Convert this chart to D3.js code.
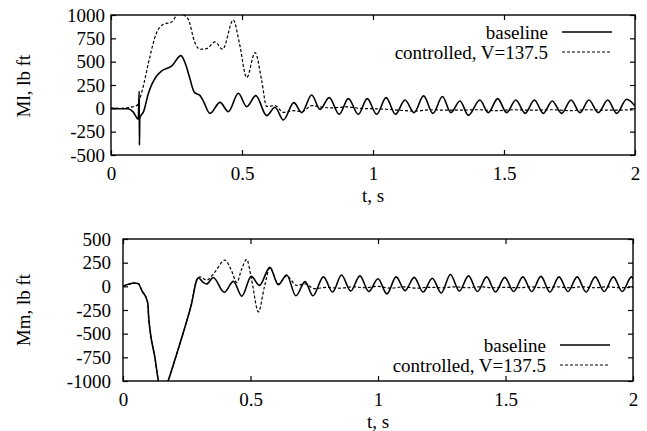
<!DOCTYPE html>
<html>
<head>
<meta charset="utf-8">
<script src="https://cdn.jsdelivr.net/npm/d3@7"></script>
<style>
body { margin: 0; background: #fff; }
text { font-family: "Liberation Serif", "Times New Roman", serif; fill: #000; }
</style>
</head>
<body>
<svg id="chart" width="647" height="431"></svg>
<script>
'use strict';

// x ticks shared by both panels
var tTicks = [0, 0.5, 1, 1.5, 2];
var mlTicks = [-500, -250, 0, 250, 500, 750, 1000];
var mmTicks = [-1000, -750, -500, -250, 0, 250, 500];
var legendNames = ['baseline', 'controlled, V=137.5'];

// Ml, baseline (t [s], lb ft)
var mlBase = [
    [0, 0], [0.03, -5], [0.065, -5], [0.085, -40], [0.104, -115], [0.1075, 185], [0.1085, -395],
    [0.11, -105], [0.125, -30], [0.142, 154], [0.174, 347], [0.193, 400], [0.232, 454],
    [0.267, 565], [0.285, 470], [0.3, 330], [0.318, 172], [0.34, 136], [0.352, 80], [0.378, -54],
    [0.416, 64], [0.448, -36], [0.486, 161], [0.518, 18], [0.553, 136], [0.594, -78], [0.626, 11],
    [0.658, -125], [0.698, 61], [0.728, -46], [0.766, 143], [0.798, -11], [0.833, 115],
    [0.871, -64], [0.906, 104], [0.944, -64], [0.978, 104], [1.014, -64], [1.05, 115],
    [1.086, -64], [1.122, 90], [1.157, -46], [1.193, 133], [1.229, -54], [1.265, 126],
    [1.297, -46], [1.332, 79], [1.364, -75], [1.408, 89], [1.44, -46], [1.476, 104], [1.51, -46],
    [1.545, 89], [1.581, -54], [1.616, 89], [1.65, -54], [1.684, 79], [1.72, -54], [1.756, 89],
    [1.79, -46], [1.824, 89], [1.86, -46], [1.896, 89], [1.93, -54], [1.968, 97], [2.0, 25]
];

// Ml, controlled
var mlCtrl = [
    [0, 0], [0.04, 0], [0.07, 10], [0.098, 29], [0.12, 200], [0.142, 475], [0.174, 811],
    [0.2, 900], [0.232, 925], [0.262, 1040], [0.278, 1000], [0.295, 955], [0.32, 705],
    [0.34, 633], [0.365, 640], [0.397, 711], [0.426, 633], [0.467, 947], [0.49, 700],
    [0.518, 329], [0.55, 597], [0.575, 300], [0.594, 20], [0.626, 29], [0.658, -43],
    [0.696, -25], [0.73, -35], [0.766, 30], [0.8, 15], [0.84, 5], [0.9, 15], [0.95, 0],
    [1.0, -5], [1.05, -10], [1.1, -20], [1.16, -30], [1.22, -15], [1.28, -20], [1.33, -20],
    [1.4, -15], [1.47, -25], [1.54, -15], [1.6, -20], [1.68, -15], [1.75, -25], [1.82, -15],
    [1.9, -20], [2.0, -15]
];

// Mm, common start of both runs
var mmStart = [
    [0, 0], [0.025, 25], [0.045, 35], [0.06, 28], [0.075, -50], [0.094, -146], [0.098, -200],
    [0.1, -300], [0.106, -463], [0.125, -750], [0.139, -1000], [0.157, -1150], [0.177, -1000],
    [0.195, -850], [0.211, -711], [0.243, -429], [0.269, -181], [0.289, 66]
];

// Mm, baseline after t = 0.29
var mmBaseTail = [
    [0.295, 90], [0.315, 40], [0.328, 25], [0.354, 94], [0.397, -62], [0.433, 52], [0.466, -104],
    [0.503, 105], [0.535, 10], [0.576, 200], [0.609, 16], [0.642, 120], [0.678, -100],
    [0.714, 50], [0.745, -100], [0.786, 100], [0.822, -60], [0.857, 120], [0.893, -50],
    [0.929, 110], [0.964, -55], [1.0, 80], [1.035, -80], [1.071, 100], [1.106, -45],
    [1.142, 95], [1.177, -60], [1.213, 85], [1.248, -70], [1.284, 125], [1.319, -50],
    [1.355, 110], [1.39, -55], [1.426, 100], [1.461, -60], [1.497, 95], [1.532, -55],
    [1.568, 100], [1.603, -55], [1.639, 105], [1.674, -60], [1.71, 100], [1.745, -55],
    [1.781, 100], [1.816, -60], [1.852, 100], [1.887, -55], [1.923, 100], [1.958, -55],
    [1.994, 100], [2.0, 80]
];

// Mm, controlled after t = 0.29
var mmCtrlTail = [
    [0.302, 100], [0.328, 66], [0.36, 150], [0.4, 277], [0.425, 170], [0.446, 40],
    [0.465, 180], [0.485, 284], [0.505, 60], [0.531, -270], [0.555, 0], [0.576, 195],
    [0.609, 27], [0.642, 110], [0.681, 10], [0.714, 27], [0.75, -25], [0.8, -10], [0.85, -20],
    [0.9, -5], [0.95, -15], [1.0, 0], [1.05, -20], [1.1, -5], [1.15, -20], [1.2, -10],
    [1.25, -15], [1.3, -5], [1.35, -15], [1.4, -5], [1.45, -15], [1.5, -10], [1.55, -15],
    [1.6, -5], [1.65, -15], [1.7, -5], [1.75, -15], [1.8, -5], [1.85, -15], [1.9, -5],
    [1.95, -15], [2.0, -10]
];

var mmBase = mmStart.concat(mmBaseTail);
var mmCtrl = mmStart.concat(mmCtrlTail);

var svg = d3.select('#chart');
var FONT = '19px';
var TICK = 5;

function drawPanel(p, idx) {
    var x = d3.scaleLinear().domain([0, 2]).range([p.left, p.right]);
    var y = d3.scaleLinear().domain(p.yDomain).range([p.bottom, p.top]);
    var g = svg.append('g').attr('id', 'panel' + idx);

    g.append('clipPath').attr('id', 'clip' + idx)
        .append('rect')
        .attr('x', p.left).attr('y', p.top)
        .attr('width', p.right - p.left).attr('height', p.bottom - p.top);

    var line = d3.line()
        .x(function(d) { return x(d[0]); })
        .y(function(d) { return y(d[1]); })
        .curve(d3.curveMonotoneX);

    var plot = g.append('g').attr('clip-path', 'url(#clip' + idx + ')');
    plot.append('path').datum(p.ctrl)
        .attr('d', line).attr('fill', 'none')
        .attr('stroke', '#000').attr('stroke-width', 1.2)
        .attr('stroke-dasharray', '3,2');
    plot.append('path').datum(p.base)
        .attr('d', line).attr('fill', 'none')
        .attr('stroke', '#000').attr('stroke-width', 1.6);

    // axes, ticks pointing inwards
    var fmt = function(d) { return String(d); };
    var ax = [
        d3.axisBottom(x).tickValues(tTicks).tickFormat(fmt).tickSizeInner(-TICK).tickSizeOuter(0).tickPadding(12),
        d3.axisTop(x).tickValues(tTicks).tickFormat('').tickSizeInner(-TICK).tickSizeOuter(0),
        d3.axisLeft(y).tickValues(p.yTicks).tickFormat(fmt).tickSizeInner(-TICK).tickSizeOuter(0).tickPadding(p.yPad),
        d3.axisRight(y).tickValues(p.yTicks).tickFormat('').tickSizeInner(-TICK).tickSizeOuter(0)
    ];
    var pos = [
        [0, p.bottom], [0, p.top], [p.left, 0], [p.right, 0]
    ];
    ax.forEach(function(a, i) {
        var ag = g.append('g')
            .attr('transform', 'translate(' + pos[i][0] + ',' + pos[i][1] + ')')
            .call(a);
        ag.select('.domain').remove();
        ag.selectAll('line').attr('stroke', '#000').attr('stroke-width', 1.2);
        ag.selectAll('text')
            .style('font-family', '"Liberation Serif", serif')
            .style('font-size', FONT)
            .attr('fill', '#000');
    });

    g.append('rect')
        .attr('x', p.left).attr('y', p.top)
        .attr('width', p.right - p.left).attr('height', p.bottom - p.top)
        .attr('fill', 'none').attr('stroke', '#000').attr('stroke-width', 1.4);

    g.append('text')
        .attr('x', (p.left + p.right) / 2).attr('y', p.xLabelY)
        .attr('text-anchor', 'middle').style('font-size', FONT)
        .text('t, s');

    g.append('text')
        .attr('transform', 'translate(23,' + p.yLabelY + ') rotate(-90)')
        .attr('text-anchor', 'middle').attr('dy', '0.35em')
        .style('font-size', FONT)
        .text(p.yLabel);

    // legend
    legendNames.forEach(function(name, i) {
        var ly = p.legY + i * 20;
        g.append('text')
            .attr('x', p.legX).attr('y', ly).attr('dy', '0.35em')
            .attr('text-anchor', 'end').style('font-size', FONT)
            .text(name);
        g.append('line')
            .attr('x1', p.legX + 14).attr('x2', p.legX + 64)
            .attr('y1', ly).attr('y2', ly)
            .attr('stroke', '#000')
            .attr('stroke-width', i === 0 ? 1.4 : 1.1)
            .attr('stroke-dasharray', i === 0 ? null : '3,2');
    });
}

drawPanel({
    left: 111, right: 635, top: 15, bottom: 155,
    yDomain: [-500, 1000], yTicks: mlTicks, yPad: 6,
    base: mlBase, ctrl: mlCtrl,
    yLabel: 'Ml, lb ft', yLabelY: 86, xLabelY: 202,
    legX: 548, legY: 32
}, 0);

drawPanel({
    left: 123, right: 633, top: 239, bottom: 381,
    yDomain: [-1000, 500], yTicks: mmTicks, yPad: 12,
    base: mmBase, ctrl: mmCtrl,
    yLabel: 'Mm, lb ft', yLabelY: 310, xLabelY: 428,
    legX: 546, legY: 345
}, 1);
</script>
</body>
</html>
